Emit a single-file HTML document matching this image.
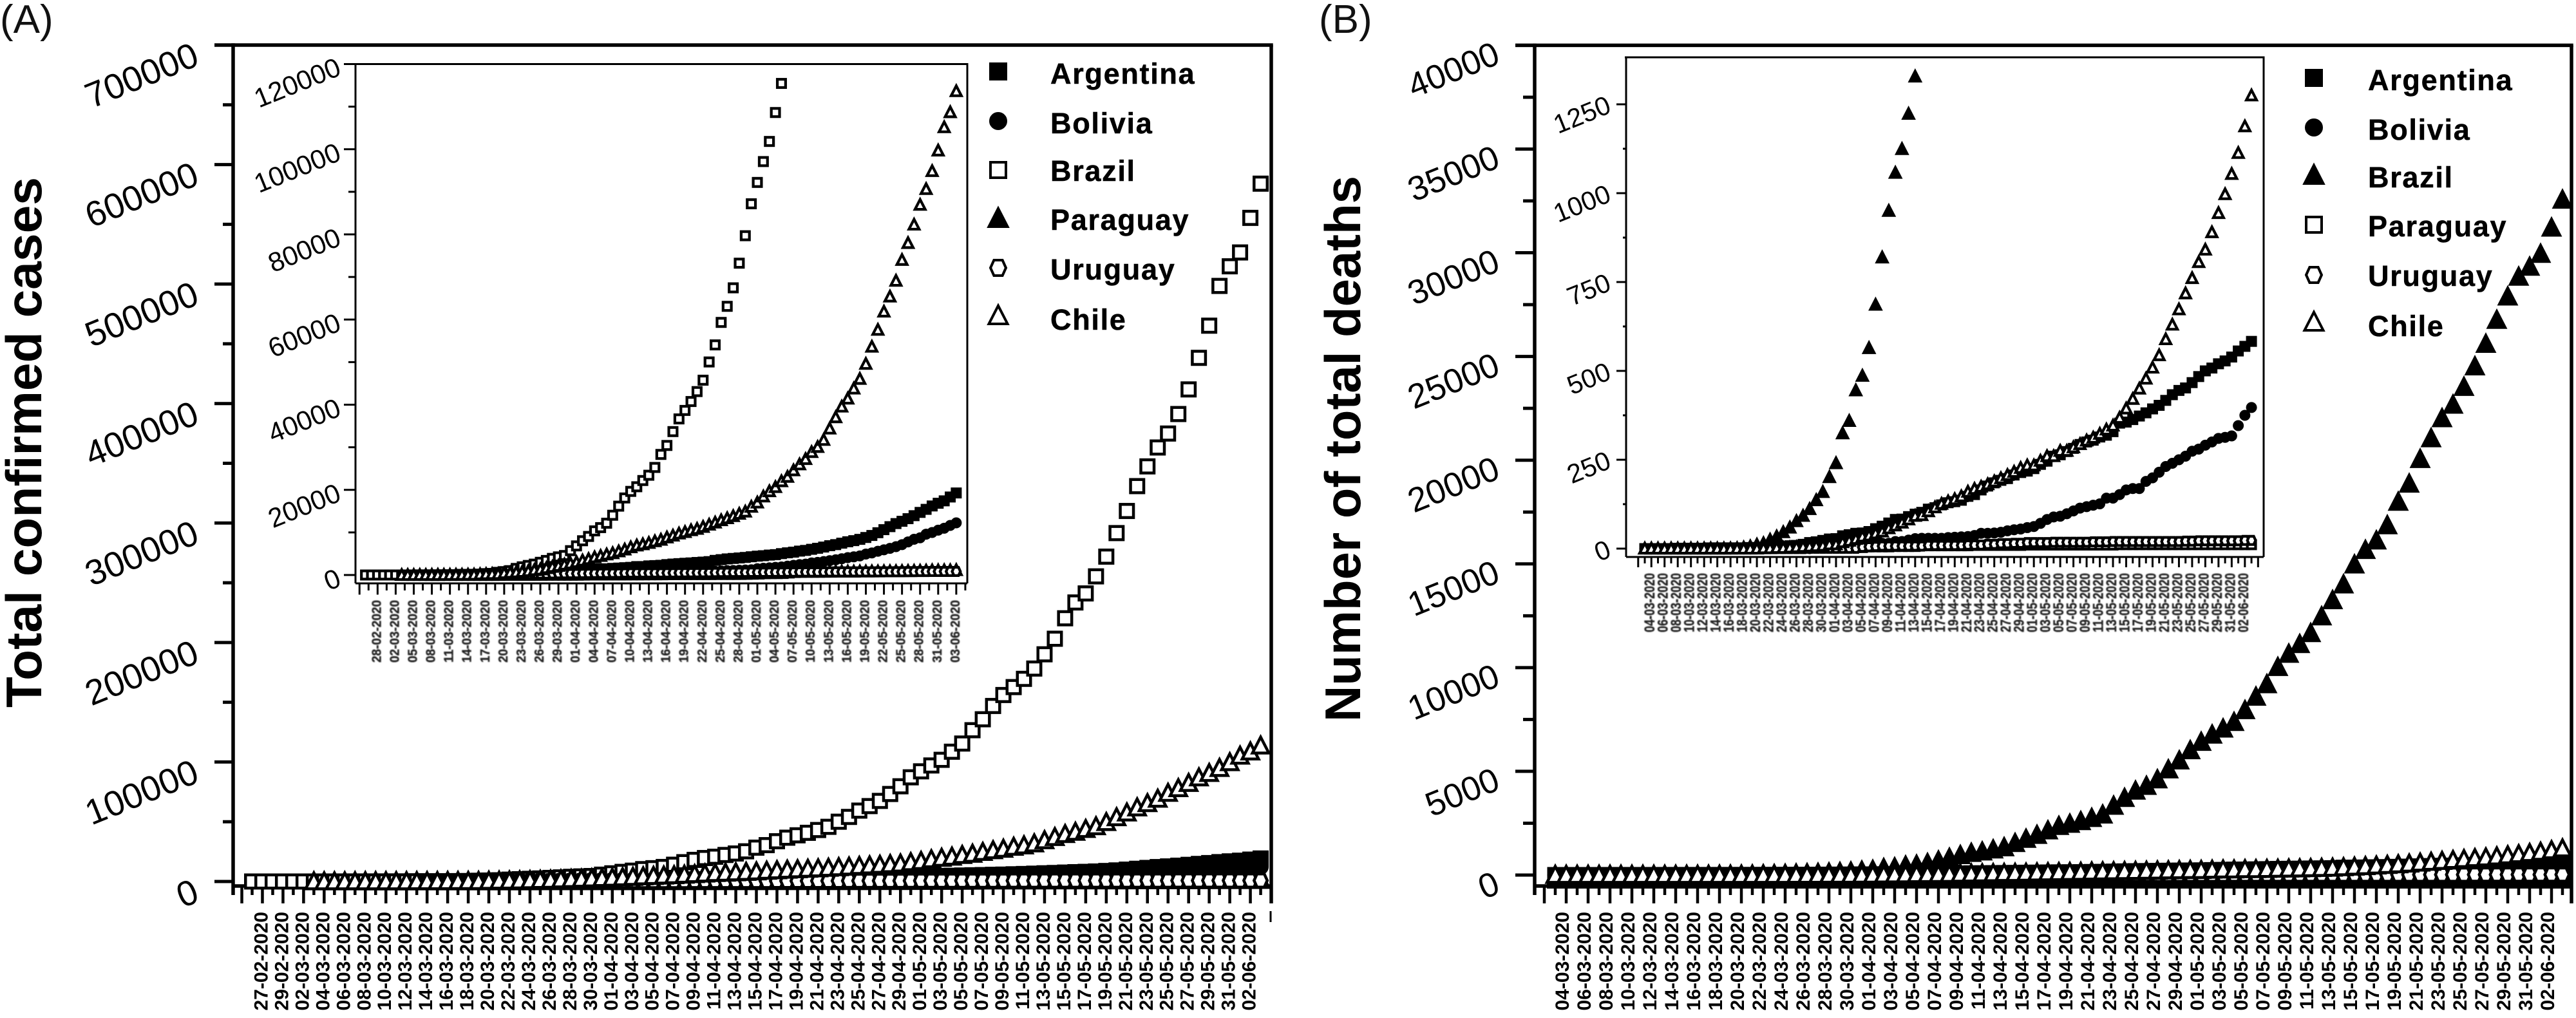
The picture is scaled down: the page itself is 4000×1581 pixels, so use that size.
<!DOCTYPE html>
<html lang="en">
<head>
<meta charset="utf-8">
<title>Total confirmed cases and total deaths</title>
<style>
html,body{margin:0;padding:0;background:#fff;}
svg{display:block;font-family:"Liberation Sans",Arial,sans-serif;}
.legend-text{font-size:45px;font-weight:700;letter-spacing:1.7px;fill:#000;stroke:#000;stroke-width:0.5px;}
.panel-tag{font-size:62px;fill:#111;}
.axis-title{font-size:78px;font-weight:700;fill:#000;}
</style>
</head>
<body>
<svg id="figure" xmlns="http://www.w3.org/2000/svg" width="4000" height="1581" viewBox="0 0 4000 1581">
<defs><filter id="soft" x="-5%" y="-5%" width="110%" height="110%"><feGaussianBlur stdDeviation="0.7"/></filter></defs>
<rect x="0" y="0" width="4000" height="1581" fill="#fff"/>
<text class="panel-tag" x="0" y="51">(A)</text>
<text class="panel-tag" x="2048" y="51">(B)</text>
<text class="axis-title" transform="translate(64,1099) rotate(-90)" textLength="824" lengthAdjust="spacingAndGlyphs">Total confirmed cases</text>
<text class="axis-title" transform="translate(2112,1121) rotate(-90)" textLength="848" lengthAdjust="spacingAndGlyphs">Number of total deaths</text>
<g id="chartA"></g>
<g id="chartB"></g>
<g>
<text class="legend-text" x="1631" y="130">Argentina</text>
<text class="legend-text" x="1631" y="207">Bolivia</text>
<text class="legend-text" x="1631" y="281">Brazil</text>
<text class="legend-text" x="1631" y="357">Paraguay</text>
<text class="legend-text" x="1631" y="434">Uruguay</text>
<text class="legend-text" x="1631" y="512">Chile</text>
</g>
<g>
<text class="legend-text" x="3677" y="140">Argentina</text>
<text class="legend-text" x="3677" y="217">Bolivia</text>
<text class="legend-text" x="3677" y="291">Brazil</text>
<text class="legend-text" x="3677" y="367">Paraguay</text>
<text class="legend-text" x="3677" y="444">Uruguay</text>
<text class="legend-text" x="3677" y="522">Chile</text>
</g>
</svg>
<script>
// ---------- Panel A data: cumulative confirmed cases (all series end on 03-06-2020) ----------
const casesArgentina = [1,1,2,8,9,12,12,17,19,19,31,34,45,56,68,79,97,128,158,225,266,301,387,387,502,589,690,745,820,1054,1054,1133,1265,1451,1451,1554,1628,1715,1795,1975,1975,2142,2208,2277,2443,2571,2669,2758,2839,2941,3031,3144,3435,3607,3780,3892,4003,4127,4285,4428,4532,4681,4783,5020,5208,5371,5611,5776,6034,6278,6563,6879,7134,7479,7805,8068,8371,8809,9283,9931,10649,11353,12076,12615,13228,13933,14702,15419,16214,16851,17415,18319,19268];
const casesBolivia = [2,3,10,10,10,11,11,12,15,19,19,24,27,29,32,43,61,74,81,97,107,115,123,132,139,157,183,194,210,264,268,275,300,330,354,397,441,465,520,564,598,609,703,807,866,950,1014,1053,1110,1167,1229,1470,1594,1681,1802,1886,2081,2266,2437,2556,2831,2964,3148,3372,3577,3826,4088,4263,4481,4919,5187,5579,5915,6263,6660,7136,7768,8387,8731,9592,9982,10531,10991,11638,12245];
const casesBrazil = [1,1,1,2,2,2,2,4,4,13,13,20,25,31,38,52,151,151,162,200,321,372,621,793,1021,1546,1924,2247,2554,2985,3417,3904,4256,4579,5717,6836,8044,9056,10360,11130,12161,14034,16170,18092,19638,20727,22192,23430,25262,28320,30425,33682,36658,38654,40743,43079,45757,50036,54043,59324,63100,67446,73235,79685,87187,92202,97100,101826,108620,115455,126611,135773,146894,156061,162699,169594,178214,190137,203165,220291,233511,241080,255368,271885,291579,310087,330890,347398,363211,374898,391222,411821,438238,465166,498440,514849,526447,555383,584016];
const casesParaguay = [1,1,1,5,5,6,6,6,8,9,11,13,18,22,22,22,27,37,41,52,56,59,64,65,69,77,92,96,104,113,115,119,124,129,133,134,147,159,161,174,202,206,208,208,208,213,213,223,228,228,239,239,266,283,333,396,431,440,462,563,689,724,737,740,740,754,761,778,786,788,788,829,829,833,838,865,877,884,900,917,964,988,1013,1070,1086,1087,1090,1145];
const casesUruguay = [4,6,8,29,50,79,94,94,110,135,162,189,217,238,274,304,310,320,338,350,369,386,400,406,415,424,473,480,483,483,491,492,493,502,508,517,528,535,543,557,563,596,606,620,625,626,630,648,652,655,657,670,673,684,694,702,707,711,712,719,723,732,733,734,736,737,738,746,749,753,764,769,769,789,803,811,822,823,825,826,828,834];
const casesChile = [1,1,4,4,8,8,13,17,23,33,43,61,75,156,201,238,238,434,537,632,746,922,1142,1306,1610,1909,2139,2449,2738,3031,3404,3737,4161,4471,4815,5116,5546,5972,6501,6927,7213,7525,7917,8273,8807,9252,9730,10088,10507,10832,11296,11812,12306,12858,13331,13813,14365,14885,16023,17008,18435,19663,20643,22016,23048,24581,25972,27219,28866,30063,31721,34381,37040,39542,41428,43781,46059,49579,53617,57581,61857,65393,69102,73997,77961,82289,86943,90638,94858,99688,105159,108686,113628];

// ---------- Panel B data: cumulative deaths, 03-03-2020 to 03-06-2020 ----------
const deathsArgentina = [0,0,0,0,0,1,1,1,1,1,2,2,2,2,2,2,3,3,3,4,4,6,8,9,12,17,19,23,27,28,36,39,43,44,48,56,63,72,82,83,90,97,102,111,115,123,129,132,136,147,152,165,176,185,192,197,207,214,218,225,237,246,260,264,273,282,293,300,305,314,319,329,353,356,363,373,382,393,403,417,433,445,452,467,484,500,508,520,528,539,556,569,583];
const deathsBolivia = [0,0,0,0,0,0,0,0,0,0,0,0,0,0,0,0,0,0,0,0,0,0,0,0,0,0,1,1,6,7,8,9,10,11,14,14,15,15,20,20,24,28,29,29,29,29,31,32,33,34,37,43,43,44,46,50,53,55,59,62,71,82,89,91,98,106,114,118,122,126,142,142,152,165,169,169,189,199,215,231,240,250,260,274,280,291,300,310,313,317,346,375,397];
const deathsBrazil = [0,0,0,0,0,0,0,0,0,0,0,0,0,0,1,3,6,11,15,25,34,46,59,77,92,111,136,159,201,240,324,359,445,486,564,686,819,950,1057,1124,1223,1328,1532,1736,1924,2141,2354,2462,2587,2741,2906,3331,3704,4057,4286,4603,5083,5513,6006,6412,6761,7051,7367,7938,8588,9190,10017,10656,11123,11653,12461,13240,13999,14962,15662,16118,16853,17983,18859,20047,21048,22013,22666,23522,24512,25598,26754,27878,28834,29314,29937,31199,32548];
const deathsParaguay = [0,0,0,0,0,0,0,0,0,0,0,0,0,0,0,0,0,1,2,2,2,3,3,3,3,3,3,3,3,3,3,3,3,3,5,5,5,5,6,6,6,6,8,8,8,8,8,8,8,8,9,9,9,9,9,9,9,9,10,10,10,10,10,10,10,10,10,10,10,10,10,10,11,11,11,11,11,11,11,11,11,11,11,11,11,11,11,11,11,11,11,11,11];
const deathsUruguay = [0,0,0,0,0,0,0,0,0,0,0,0,0,0,0,0,0,0,0,0,0,0,0,0,0,1,1,1,1,1,1,1,1,4,5,6,7,7,7,7,7,7,7,9,9,9,9,9,9,10,10,10,12,12,14,14,15,15,17,17,17,17,18,18,18,18,18,18,19,19,19,20,20,20,20,20,20,20,20,20,20,20,21,21,22,22,22,22,22,22,22,23,23];
const deathsChile = [0,0,0,0,0,0,0,0,0,0,0,0,0,0,0,0,0,0,1,1,2,2,3,4,5,6,7,8,12,12,18,22,27,34,37,43,48,57,65,73,82,92,94,105,116,126,133,139,147,160,168,174,181,189,198,207,216,227,234,234,247,260,260,275,275,285,294,304,312,323,335,346,368,394,421,450,478,509,544,589,630,673,718,761,806,841,890,944,997,1054,1113,1188,1275];

// ---------- Tick labels ----------
const casesMainTickLabels = [0,100000,200000,300000,400000,500000,600000,700000];
const casesInsetTickLabels = [0,20000,40000,60000,80000,100000,120000];
const deathsMainTickLabels = [0,5000,10000,15000,20000,25000,30000,35000,40000];
const deathsInsetTickLabels = [0,250,500,750,1000,1250];
const casesMainDates = ["27-02-2020","29-02-2020","02-03-2020","04-03-2020","06-03-2020","08-03-2020","10-03-2020","12-03-2020","14-03-2020","16-03-2020","18-03-2020","20-03-2020","22-03-2020","24-03-2020","26-03-2020","28-03-2020","30-03-2020","01-04-2020","03-04-2020","05-04-2020","07-04-2020","09-04-2020","11-04-2020","13-04-2020","15-04-2020","17-04-2020","19-04-2020","21-04-2020","23-04-2020","25-04-2020","27-04-2020","29-04-2020","01-05-2020","03-05-2020","05-05-2020","07-05-2020","09-05-2020","11-05-2020","13-05-2020","15-05-2020","17-05-2020","19-05-2020","21-05-2020","23-05-2020","25-05-2020","27-05-2020","29-05-2020","31-05-2020","02-06-2020"];
const casesInsetDates = ["28-02-2020","02-03-2020","05-03-2020","08-03-2020","11-03-2020","14-03-2020","17-03-2020","20-03-2020","23-03-2020","26-03-2020","29-03-2020","01-04-2020","04-04-2020","07-04-2020","10-04-2020","13-04-2020","16-04-2020","19-04-2020","22-04-2020","25-04-2020","28-04-2020","01-05-2020","04-05-2020","07-05-2020","10-05-2020","13-05-2020","16-05-2020","19-05-2020","22-05-2020","25-05-2020","28-05-2020","31-05-2020","03-06-2020"];
const deathsDates = ["04-03-2020","06-03-2020","08-03-2020","10-03-2020","12-03-2020","14-03-2020","16-03-2020","18-03-2020","20-03-2020","22-03-2020","24-03-2020","26-03-2020","28-03-2020","30-03-2020","01-04-2020","03-04-2020","05-04-2020","07-04-2020","09-04-2020","11-04-2020","13-04-2020","15-04-2020","17-04-2020","19-04-2020","21-04-2020","23-04-2020","25-04-2020","27-04-2020","29-04-2020","01-05-2020","03-05-2020","05-05-2020","07-05-2020","09-05-2020","11-05-2020","13-05-2020","15-05-2020","17-05-2020","19-05-2020","21-05-2020","23-05-2020","25-05-2020","27-05-2020","29-05-2020","31-05-2020","02-06-2020"];

const NS = 'http://www.w3.org/2000/svg';
function make(tag, attrs, parent) {
  const el = document.createElementNS(NS, tag);
  for (const k in attrs) el.setAttribute(k, attrs[k]);
  parent.appendChild(el);
  return el;
}
function line(parent, x1, y1, x2, y2, w, name) {
  const el = make('line', {x1, y1, x2, y2, stroke: '#000', 'stroke-width': w}, parent);
  
  
  return el;
}
function group(parent, name) {
  const el = make('g', {}, parent);
  
  
  return el;
}
// s = outer size, sw = stroke width
function marker(parent, kind, cx, cy, s, sw, name) {
  const r = s / 2;
  const hollow = kind.charAt(0) === 'o';
  const paint = {fill: hollow ? '#fff' : '#000', stroke: '#000', 'stroke-width': sw, 'stroke-linejoin': 'miter'};
  const inset = r - sw / 2;
  const shape = kind.slice(1);
  let el;
  if (shape === 'square') {
    el = make('rect', Object.assign({x: cx - inset, y: cy - inset, width: inset * 2, height: inset * 2}, paint), parent);
  } else if (shape === 'circle') {
    el = make('circle', Object.assign({cx, cy, r: inset}, paint), parent);
  } else if (shape === 'hex') {
    const h = inset, w = inset * 0.55;
    el = make('polygon', Object.assign({points: `${cx-h},${cy} ${cx-w},${cy-h} ${cx+w},${cy-h} ${cx+h},${cy} ${cx+w},${cy+h} ${cx-w},${cy+h}`}, paint), parent);
  } else {
    const w = inset * 1.0, h = inset * 1.05;
    el = make('polygon', Object.assign({points: `${cx},${cy-h} ${cx+w},${cy+h*0.85} ${cx-w},${cy+h*0.85}`}, paint), parent);
  }
  
  
  return el;
}

function drawFrame(p, o) {
  const g = group(p.root, o.name + '-axes');
  const xAxisY = o.bottom;
  line(g, o.left, o.top - o.sw / 2, o.left, o.leftEnd, o.sw, o.name + '-y-axis');
  line(g, o.topFrom, o.top, o.right + o.sw / 2, o.top, o.sw, o.name + '-top-border');
  line(g, o.right, o.top, o.right, o.rightEnd, o.sw, o.name + '-right-border');
  line(g, o.left, xAxisY, o.right, xAxisY, o.sw, o.name + '-x-axis');
  if (o.bandFrom) {
    line(g, o.bandFrom, o.bandY, o.right, o.bandY, o.bandW, o.name + '-baseline-band');
  }
  // y ticks: major at each label, minor halfway
  o.yLabels.forEach((v, k) => {
    const y = o.y(v);
    line(g, o.tickL, y, o.left, y, o.tickW, o.name + '-y-tick');
    if (k < o.yLabels.length - 1) {
      const ym = o.y((v + o.yLabels[k + 1]) / 2);
      line(g, o.tickM, ym, o.left, ym, o.tickW, o.name + '-y-minor-tick');
    }
    const t = make('text', {
      x: 0, y: 0, 'text-anchor': 'end', 'font-size': o.labelSize, fill: '#000',
      transform: `translate(${o.labelRight},${y + o.labelDy}) rotate(-22)`
    }, g);
    
    
    t.textContent = String(v);
  });
  // x ticks
  for (let i = o.tickFrom; i <= o.tickTo; i += o.tickStep / 2) {
    const major = Math.abs(((i - o.tickFrom) / o.tickStep) % 1) < 1e-6;
    const x = o.x(i);
    if (x < o.left || x > o.right) continue;
    line(g, x, xAxisY, x, major ? o.xTickMajor : o.xTickMinor, o.xTickW, o.name + (major ? '-x-tick' : '-x-minor-tick'));
  }
  // date labels
  const dl = group(g, o.name + '-x-labels');
  if (o.soft) dl.setAttribute('filter', 'url(#soft)');
  o.dates.forEach((d, k) => {
    const x = o.x(o.dateFrom + k * o.tickStep) + o.dateDx;
    const attrs = {
      x: 0, y: 0, 'text-anchor': 'end', 'font-size': o.dateSize, 'font-weight': 700, fill: o.dateFill,
      transform: `translate(${x},${o.dateY}) rotate(-90)`
    };
    if (o.dateLen) {
      attrs.textLength = o.dateLen;
      attrs.lengthAdjust = 'spacingAndGlyphs';
      attrs.stroke = o.dateFill;
      attrs['stroke-width'] = 0.4;
    }
    const t = make('text', attrs, dl);
    
    
    t.textContent = d;
  });
}

function drawSeries(parent, o, list, total) {
  list.forEach(s => {
    const g = group(parent, o.name + '-series-' + s.name);
    const shift = total - s.values.length;
    s.values.forEach((v, k) => {
      const cy = o.y(v);
      if (cy < o.top) return;
      marker(g, s.kind, o.x(k + shift), cy, s.kind.slice(1) === 'triangle' ? o.markTri : o.mark, o.markSw, o.name + '-mark-' + s.name);
    });
  });
}

function scale(v0, y0, v1, y1) {
  return v => y0 + (v - v0) * (y1 - y0) / (v1 - v0);
}

// ---------- Panel A ----------
const rootA = document.getElementById('chartA');
const seriesA = [
  {name: 'argentina', kind: 'fsquare', values: casesArgentina},
  {name: 'bolivia', kind: 'fcircle', values: casesBolivia},
  {name: 'brazil', kind: 'osquare', values: casesBrazil},
  {name: 'paraguay', kind: 'ftriangle', values: casesParaguay},
  {name: 'uruguay', kind: 'ohex', values: casesUruguay},
  {name: 'chile', kind: 'otriangle', values: casesChile}
];
const mainA = {
  name: 'cases-main', left: 362, right: 1974, top: 70, bottom: 1376, leftEnd: 1390, rightEnd: 1403, sw: 5.5,
  topFrom: 333, tickL: 333, tickM: 346, tickW: 5, labelRight: 312, labelDy: 30, labelSize: 55,
  y: scale(0, 1369, 700000, 70), yLabels: casesMainTickLabels,
  x: i => 391.5 + 15.98 * i, tickFrom: -1, tickTo: 98, tickStep: 2, xTickMajor: 1403, xTickMinor: 1390, xTickW: 4.5,
  dates: casesMainDates, dateFrom: 1, dateDx: 8, dateY: 1416, dateSize: 30, dateFill: '#000',
  mark: 25, markTri: 30, markSw: 4.5
};
const insetA = {
  name: 'cases-inset', left: 552, right: 1502, top: 99.5, bottom: 906, leftEnd: 906, rightEnd: 906, sw: 3,
  topFrom: 534, tickL: 534, tickM: 541, tickW: 3, labelRight: 532, labelDy: 16, labelSize: 42,
  y: scale(0, 893, 120000, 99.5), yLabels: casesInsetTickLabels,
  x: i => 567.6 + 9.36 * i, tickFrom: -1, tickTo: 100, tickStep: 3, xTickMajor: 923.5, xTickMinor: 917, xTickW: 3,
  dates: casesInsetDates, dateFrom: 2, dateDx: 5, dateY: 932, dateSize: 20, dateLen: 97, dateFill: '#222', soft: true,
  mark: 17, markTri: 20, markSw: 4.2
};
drawFrame({root: rootA}, mainA);
const insetGroupA = group(rootA, 'cases-inset-chart');
const insetBgA = make('rect', {x: insetA.left, y: insetA.top, width: insetA.right - insetA.left, height: insetA.bottom - insetA.top, fill: '#fff'}, insetGroupA);


drawSeries(rootA, mainA, seriesA, 99);
drawFrame({root: rootA}, insetA);
drawSeries(rootA, insetA, seriesA, 99);

// ---------- Panel B ----------
const rootB = document.getElementById('chartB');
const seriesB = [
  {name: 'argentina', kind: 'fsquare', values: deathsArgentina},
  {name: 'bolivia', kind: 'fcircle', values: deathsBolivia},
  {name: 'brazil', kind: 'ftriangle', values: deathsBrazil},
  {name: 'paraguay', kind: 'osquare', values: deathsParaguay},
  {name: 'uruguay', kind: 'ohex', values: deathsUruguay},
  {name: 'chile', kind: 'otriangle', values: deathsChile}
];
const mainB = {
  name: 'deaths-main', left: 2383, right: 3993, top: 70.4, bottom: 1376, bandFrom: 2402, bandY: 1374, bandW: 12, leftEnd: 1390, rightEnd: 1403, sw: 5.5,
  topFrom: 2353, tickL: 2353, tickM: 2365, tickW: 5, labelRight: 2332, labelDy: 27, labelSize: 53,
  y: scale(0, 1359, 40000, 70.4), yLabels: deathsMainTickLabels,
  x: i => 2415 + 17 * i, tickFrom: -1, tickTo: 92, tickStep: 2, xTickMajor: 1403, xTickMinor: 1390, xTickW: 4.5,
  dates: deathsDates, dateFrom: 1, dateDx: 4, dateY: 1416, dateSize: 30, dateFill: '#000',
  mark: 25, markTri: 30, markSw: 4.5
};
const insetB = {
  name: 'deaths-inset', left: 2525, right: 3515, top: 89, bottom: 865, leftEnd: 865, rightEnd: 865, sw: 3,
  topFrom: 2523, tickL: 2510, tickM: 2520, tickW: 3, labelRight: 2504, labelDy: 12, labelSize: 41,
  y: scale(0, 852, 1250, 162), yLabels: deathsInsetTickLabels,
  x: i => 2554 + 10.24 * i, tickFrom: -1, tickTo: 93, tickStep: 2, xTickMajor: 881, xTickMinor: 875, xTickW: 3,
  dates: deathsDates, dateFrom: 1, dateDx: 5, dateY: 890, dateSize: 22, dateLen: 92, dateFill: '#222', soft: true,
  mark: 17, markTri: 20, markSw: 4.2
};
drawFrame({root: rootB}, mainB);
const insetGroupB = group(rootB, 'deaths-inset-chart');
const insetBgB = make('rect', {x: insetB.left, y: insetB.top, width: insetB.right - insetB.left, height: insetB.bottom - insetB.top, fill: '#fff'}, insetGroupB);


drawSeries(rootB, mainB, seriesB, 93);
drawFrame({root: rootB}, insetB);
drawSeries(rootB, insetB, seriesB, 93);

// Small stray tick mark under the last position of panel A
line(rootA, 1973, 1415, 1973, 1432, 3, 'cases-main-end-mark');

// ---------- Legend markers ----------
const legendGroup = group(document.getElementById('figure'), 'legend-markers');
const legendYA = [111, 188, 264, 339, 416, 490];
const legendYB = [121, 198, 272, 349, 427, 500];
seriesA.forEach((s, k) => {
  marker(legendGroup, s.kind, 1550, legendYA[k], s.kind.slice(1) === 'triangle' ? 33 : 28, 4, 'legend-a-marker-' + s.name);
});
seriesB.forEach((s, k) => {
  marker(legendGroup, s.kind, 3593, legendYB[k], s.kind.slice(1) === 'triangle' ? 33 : 28, 4, 'legend-b-marker-' + s.name);
});
</script>
</body>
</html>
